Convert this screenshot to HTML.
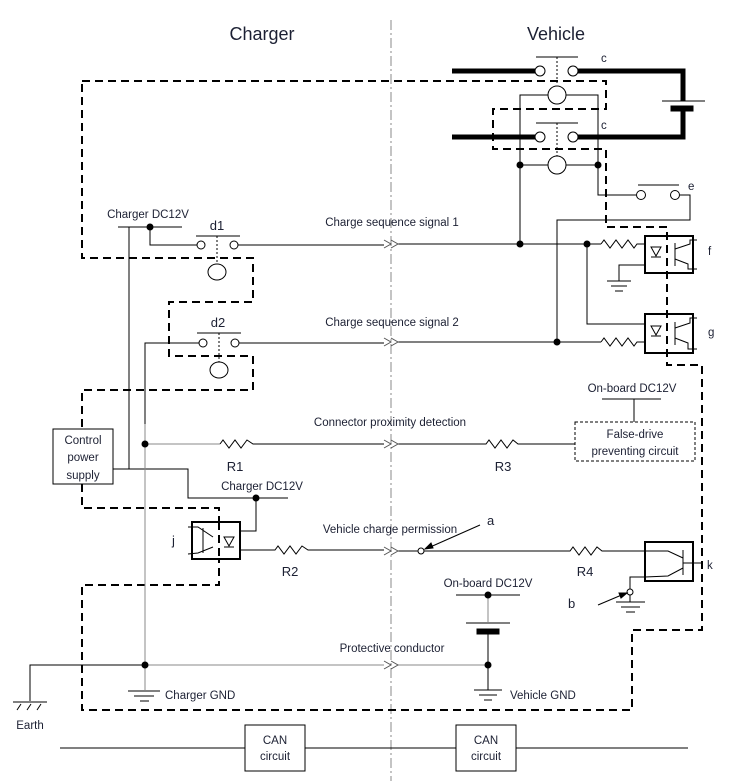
<!DOCTYPE html>
<html><head><meta charset="utf-8"><style>
html,body{margin:0;padding:0;background:#fff;}
svg{display:block;}
text{font-family:"Liberation Sans",sans-serif;font-size:11.5px;fill:#1c2033;}
</style></head><body>
<svg width="735" height="781" viewBox="0 0 735 781" xmlns="http://www.w3.org/2000/svg">
<g fill="none" stroke="#000" stroke-width="1">
<!-- center dash-dot -->
<line x1="391" y1="20" x2="391" y2="781" stroke="#888" stroke-dasharray="10,3,2,3"/>
<!-- big dashed boundary -->
<polygon points="82,81 606,81 606,109 493,109 493,149 606,149 606,227 667,227 667,365 702,365 702,630 632,630 632,710 82,710 82,585 219,585 219,508 82,508 82,390 253,390 253,356 169,356 169,302 253,302 253,258 82,258" stroke-width="2" stroke-dasharray="8,5"/>

<!-- thick battery wires -->
<g stroke-width="5">
<line x1="452" y1="71" x2="535" y2="71"/>
<polyline points="578,71 683,71 683,101"/>
<line x1="452" y1="137" x2="535" y2="137"/>
<polyline points="578,137 683,137 683,109"/>
</g>
<line x1="662" y1="101" x2="705" y2="101"/>
<rect x="671" y="106" width="22" height="5" fill="#000"/>
<!-- contactors c -->
<circle cx="540" cy="71" r="5" fill="#fff"/><circle cx="573" cy="71" r="5" fill="#fff"/>
<line x1="536" y1="57" x2="578" y2="57"/>
<line x1="557" y1="57" x2="557" y2="85" stroke-dasharray="2,2"/>
<ellipse cx="557" cy="95" rx="9" ry="9" fill="#fff"/>
<circle cx="540" cy="137" r="5" fill="#fff"/><circle cx="573" cy="137" r="5" fill="#fff"/>
<line x1="536" y1="123" x2="578" y2="123"/>
<line x1="557" y1="123" x2="557" y2="156" stroke-dasharray="2,2"/>
<ellipse cx="557" cy="165" rx="9" ry="9" fill="#fff"/>
<polyline points="548,95 520,95 520,244"/>
<polyline points="566,95 598,95 598,195 636,195"/>
<line x1="520" y1="165" x2="548" y2="165"/><line x1="566" y1="165" x2="598" y2="165"/>
<!-- e -->
<line x1="638" y1="185" x2="679" y2="185"/>
<circle cx="641" cy="195" r="4.5" fill="#fff"/><circle cx="675" cy="195" r="4.5" fill="#fff"/>
<polyline points="680,195 690,195 690,220 557,220 557,342"/>

<!-- signal 1 -->
<polyline points="238,245 384,245"/>
<line x1="398" y1="244" x2="601" y2="244"/>
<polyline points="601,244 604,240 610,248 616,240 622,248 628,240 634,248 637,244 645,244"/>
<polyline points="587,244 587,324 645,324"/>
<!-- signal 2 -->
<line x1="239" y1="343" x2="384" y2="343"/>
<line x1="398" y1="342" x2="601" y2="342"/>
<polyline points="601,342 604,338 610,346 616,338 622,346 628,338 634,346 637,342 645,342"/>

<!-- optocoupler f -->
<rect x="645" y="236" width="48" height="37" stroke-width="2"/>
<polyline points="645,265 619,265 619,281"/>
<line x1="607" y1="281" x2="631" y2="281"/><line x1="611" y1="286" x2="627" y2="286"/><line x1="615" y1="291" x2="623" y2="291"/>
<polygon points="651,247 661,247 656,256"/><line x1="651" y1="257" x2="661" y2="257"/>
<line x1="675" y1="243" x2="675" y2="266"/><polyline points="675,249 690,244 690,240 697,240"/><polyline points="675,259 688,264 688,269 697,269"/>
<!-- optocoupler g -->
<rect x="645" y="314" width="48" height="39" stroke-width="2"/>
<polygon points="651,326 661,326 656,335"/><line x1="651" y1="336" x2="661" y2="336"/>
<line x1="675" y1="322" x2="675" y2="345"/><polyline points="675,328 690,323 690,318 697,318"/><polyline points="675,338 688,343 688,349 697,349"/>

<!-- left: DC12V top -->
<line x1="118" y1="227" x2="182" y2="227"/>
<polyline points="150,227 150,245 197,245"/>
<line x1="129" y1="227" x2="129" y2="469"/>
<polyline points="113,469 188,469 188,498 288,498"/>
<polyline points="256,498 256,531 240,531"/>
<!-- d1 -->
<line x1="196" y1="236" x2="240" y2="236"/>
<circle cx="201" cy="245" r="4" fill="#fff"/><circle cx="234" cy="245" r="4" fill="#fff"/>
<line x1="217" y1="236" x2="217" y2="264" stroke-dasharray="2,2"/>
<ellipse cx="217" cy="272" rx="9" ry="8" fill="#fff"/>
<!-- d2 -->
<line x1="197" y1="333" x2="241" y2="333"/>
<circle cx="203" cy="343" r="4" fill="#fff"/><circle cx="235" cy="343" r="4" fill="#fff"/>
<line x1="219" y1="333" x2="219" y2="362" stroke-dasharray="2,2"/>
<ellipse cx="219" cy="370" rx="9" ry="8" fill="#fff"/>
<polyline points="199,343 145,343 145,424"/>
<line x1="145" y1="424" x2="145" y2="690" stroke="#888"/>
<!-- R1 -->
<line x1="145" y1="444" x2="220" y2="444" stroke="#888"/>
<polyline points="220,444 223,440 229,448 235,440 241,448 247,440 253,444 384,444"/>
<!-- control box -->
<rect x="53" y="429" width="60" height="55" fill="#fff"/>
<!-- j -->
<rect x="192" y="522" width="48" height="37" stroke-width="2" fill="#fff"/>
<line x1="219" y1="522" x2="219" y2="559" stroke-width="2" stroke-dasharray="8,5"/>
<polygon points="224,537 234,537 229,546"/><line x1="224" y1="547" x2="234" y2="547"/>
<line x1="203" y1="528" x2="203" y2="553"/><polyline points="188,527 198,527 213,537"/><polyline points="213,547 198,553 188,554"/>
<polyline points="240,550 275,550 278,546 284,554 290,546 296,554 302,546 308,550 384,550"/>
<!-- vehicle proximity -->
<polyline points="398,444 486,444 489,440 495,448 501,440 507,448 513,440 518,444 575,444"/>
<rect x="575" y="422" width="120" height="39" stroke-dasharray="3,2"/>
<line x1="602" y1="399" x2="661" y2="399"/><line x1="634" y1="399" x2="634" y2="422"/>
<!-- permission -->
<line x1="398" y1="551" x2="418" y2="551"/>
<circle cx="421" cy="551" r="3" fill="#fff"/>
<polyline points="424,551 570,551 573,547 579,555 585,547 591,555 597,547 602,551 645,551"/>
<rect x="645" y="542" width="48" height="39" stroke-width="2"/>
<line x1="683" y1="550" x2="683" y2="575"/><polyline points="683,558 668,551 645,551"/><polyline points="683,568 668,576 645,577"/>
<line x1="683" y1="563" x2="702" y2="563"/>
<polyline points="645,577 630,577 630,589"/>
<circle cx="630" cy="592" r="3" fill="#fff"/>
<line x1="630" y1="595" x2="630" y2="602"/>
<line x1="616" y1="602" x2="645" y2="602"/><line x1="621" y1="607" x2="640" y2="607"/><line x1="626" y1="612" x2="635" y2="612"/>
<line x1="598" y1="605" x2="624" y2="594"/><polygon points="627,593 619,593 621,598" fill="#000"/>
<line x1="480" y1="525" x2="428" y2="548"/><polygon points="425,549 431,543 433,548" fill="#000"/>
<!-- onboard battery -->
<line x1="456" y1="595" x2="520" y2="595"/>
<line x1="488" y1="595" x2="488" y2="622" stroke="#888"/>
<line x1="466" y1="623" x2="510" y2="623"/>
<rect x="477" y="629" width="22" height="5" fill="#000"/>
<line x1="488" y1="634" x2="488" y2="690"/>
<line x1="474" y1="690" x2="502" y2="690"/><line x1="479" y1="695" x2="497" y2="695"/><line x1="484" y1="700" x2="492" y2="700"/>
<!-- protective conductor -->
<line x1="145" y1="665" x2="384" y2="665" stroke="#888"/>
<line x1="398" y1="665" x2="488" y2="665" stroke="#888"/>
<polyline points="145,665 30,665 30,701"/>
<line x1="13" y1="702" x2="47" y2="702"/>
<line x1="17" y1="710" x2="21" y2="704"/><line x1="27" y1="710" x2="31" y2="704"/><line x1="37" y1="710" x2="41" y2="704"/>
<line x1="128" y1="691" x2="160" y2="691"/><line x1="134" y1="696" x2="154" y2="696"/><line x1="140" y1="701" x2="149" y2="701"/>
<!-- chevrons -->
<g stroke="#555">
<polyline points="384,240 391,244 384,248"/><polyline points="391,240 398,244 391,248"/>
<polyline points="384,338 391,342 384,346"/><polyline points="391,338 398,342 391,346"/>
<polyline points="384,440 391,444 384,448"/><polyline points="391,440 398,444 391,448"/>
<polyline points="384,547 391,551 384,555"/><polyline points="391,547 398,551 391,555"/>
<polyline points="384,661 391,665 384,669"/><polyline points="391,661 398,665 391,669"/>
</g>
<!-- CAN -->
<line x1="60" y1="748" x2="688" y2="748"/>
<rect x="245" y="725" width="60" height="46" fill="#fff"/>
<rect x="456" y="725" width="60" height="46" fill="#fff"/>
</g>
<g fill="#000">
<circle cx="520" cy="165" r="3.5"/><circle cx="598" cy="165" r="3.5"/>
<circle cx="520" cy="244" r="3.5"/><circle cx="587" cy="244" r="3.5"/><circle cx="557" cy="342" r="3.5"/>
<circle cx="150" cy="227" r="3.5"/><circle cx="145" cy="444" r="3.5"/><circle cx="256" cy="498" r="3.5"/>
<circle cx="145" cy="665" r="3.5"/><circle cx="488" cy="595" r="3.5"/><circle cx="488" cy="665" r="3.5"/>
</g>
<text x="262" y="40" text-anchor="middle" style="font-size:18px">Charger</text>
<text x="556" y="40" text-anchor="middle" style="font-size:18px">Vehicle</text>
<text x="601" y="62">c</text><text x="601" y="129">c</text><text x="688" y="190">e</text>
<text x="708" y="255">f</text><text x="708" y="336">g</text><text x="707" y="569">k</text>
<text x="148" y="218" text-anchor="middle">Charger DC12V</text>
<text x="217" y="230" text-anchor="middle" style="font-size:13px">d1</text>
<text x="218" y="327" text-anchor="middle" style="font-size:13px">d2</text>
<text x="392" y="226" text-anchor="middle">Charge sequence signal 1</text>
<text x="392" y="326" text-anchor="middle">Charge sequence signal 2</text>
<text x="390" y="426" text-anchor="middle">Connector proximity detection</text>
<text x="390" y="533" text-anchor="middle">Vehicle charge permission</text>
<text x="392" y="652" text-anchor="middle">Protective conductor</text>
<text x="83" y="444" text-anchor="middle">Control</text>
<text x="83" y="461" text-anchor="middle">power</text>
<text x="83" y="479" text-anchor="middle">supply</text>
<text x="235" y="471" text-anchor="middle" style="font-size:13px">R1</text>
<text x="290" y="576" text-anchor="middle" style="font-size:13px">R2</text>
<text x="503" y="471" text-anchor="middle" style="font-size:13px">R3</text>
<text x="585" y="576" text-anchor="middle" style="font-size:13px">R4</text>
<text x="262" y="490" text-anchor="middle">Charger DC12V</text>
<text x="172" y="545" style="font-size:13px">j</text>
<text x="632" y="392" text-anchor="middle">On-board DC12V</text>
<text x="635" y="438" text-anchor="middle">False-drive</text>
<text x="635" y="455" text-anchor="middle">preventing circuit</text>
<text x="487" y="525" style="font-size:13px">a</text>
<text x="568" y="608" style="font-size:13px">b</text>
<text x="488" y="587" text-anchor="middle">On-board DC12V</text>
<text x="510" y="699">Vehicle GND</text>
<text x="165" y="699">Charger GND</text>
<text x="30" y="729" text-anchor="middle">Earth</text>
<text x="275" y="744" text-anchor="middle">CAN</text>
<text x="275" y="760" text-anchor="middle">circuit</text>
<text x="486" y="744" text-anchor="middle">CAN</text>
<text x="486" y="760" text-anchor="middle">circuit</text>
</svg>
</body></html>
